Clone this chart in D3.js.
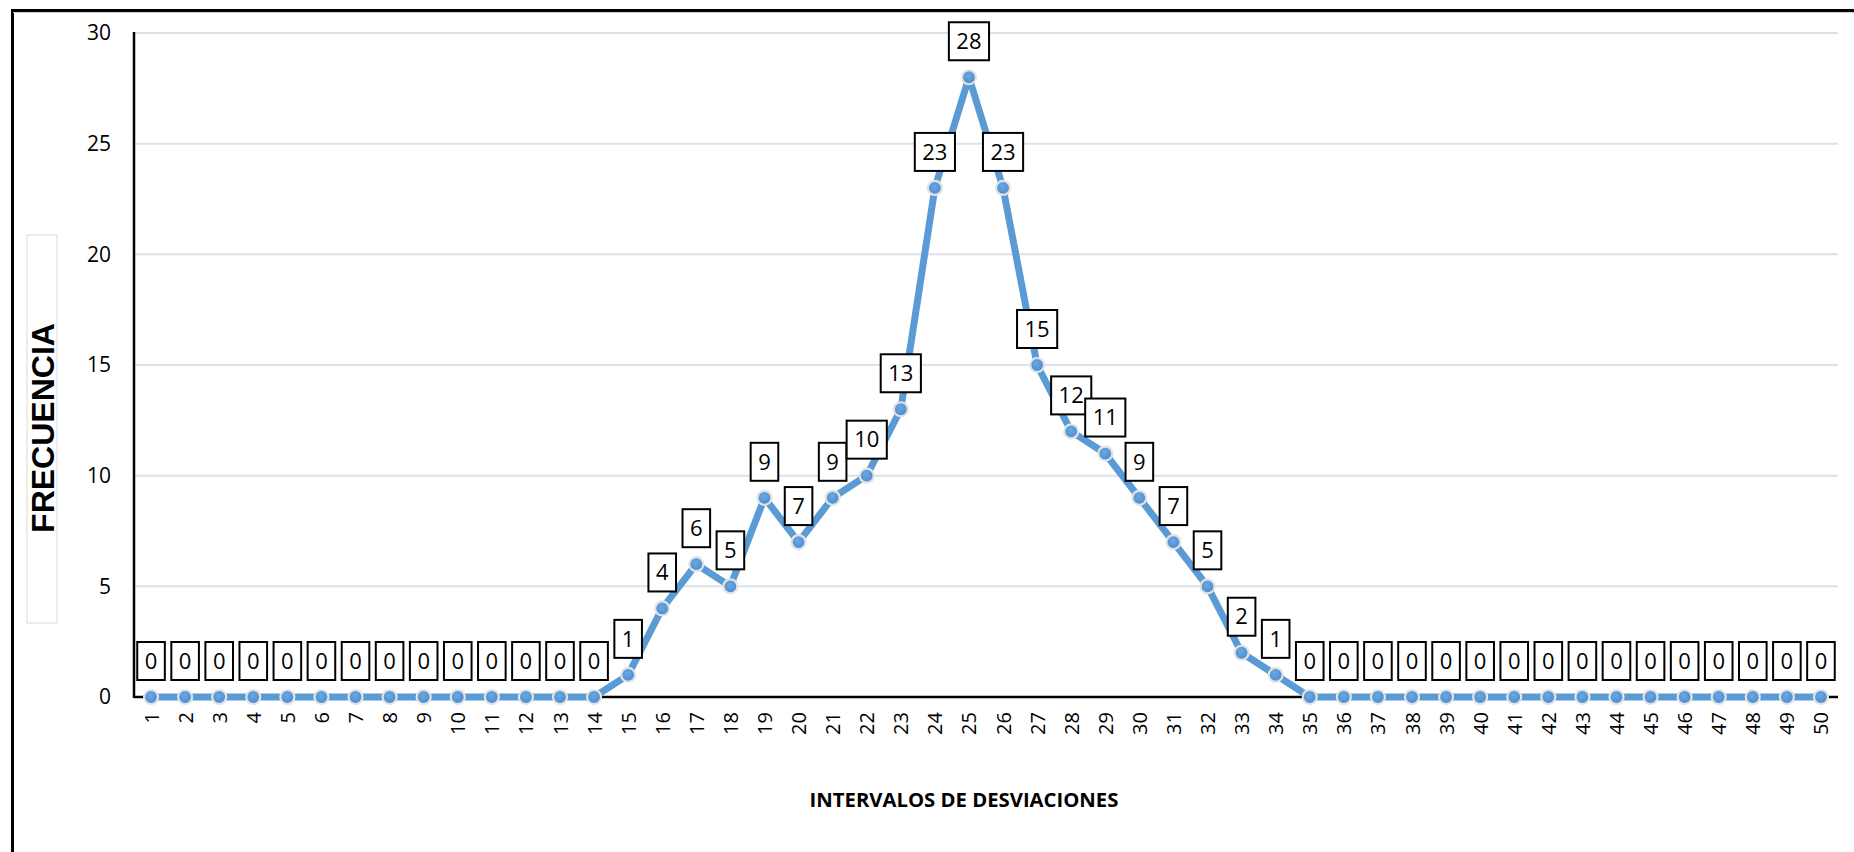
<!DOCTYPE html>
<html><head><meta charset="utf-8">
<script src="https://cdn.jsdelivr.net/npm/d3@7"></script>
<style>body{margin:0;background:#fff}svg{display:block}</style>
</head><body>
<svg id="c" width="1854" height="852"></svg>
<script>
const categories = d3.range(1, 51).map(String);
const frecuencia = [0,0,0,0,0,0,0,0,0,0,0,0,0,0,1,4,6,5,9,7,9,10,13,23,28,23,15,12,11,9,7,5,2,1,0,0,0,0,0,0,0,0,0,0,0,0,0,0,0,0];
const yTicks = [0,5,10,15,20,25,30];
const yTitle = "FRECUENCIA";
const xTitle = "INTERVALOS DE DESVIACIONES";

const svg = d3.select("#c");
const L = 134, R = 1838, T = 33, B = 697;
const step = (R - L) / categories.length;
const x = d3.scalePoint().domain(categories).range([L + step/2, R - step/2]);
const y = d3.scaleLinear().domain([0,30]).range([B, T]);

// outer border
svg.append("path").attr("d", `M12.5,1000 V10.5 H2000`).attr("fill","none").attr("stroke","#000").attr("stroke-width",3);
svg.append("line").attr("x1",13).attr("x2",1854).attr("y1",12.5).attr("y2",12.5).attr("stroke","#d0d0d0").attr("stroke-width",1);

// gridlines
svg.append("g").selectAll("line").data(yTicks.filter(d=>d>0)).join("line")
  .attr("x1", L).attr("x2", R).attr("y1", d=>y(d)).attr("y2", d=>y(d))
  .attr("stroke", "#dde1e7").attr("stroke-width", 2);

// y axis
const yAxis = svg.append("g").attr("transform", `translate(${L},0)`)
  .call(d3.axisLeft(y).tickValues(yTicks).tickSize(0).tickPadding(23));
yAxis.select(".domain").remove();
yAxis.selectAll("text").attr("font-family","'Open Sans', sans-serif").attr("font-size",21).attr("fill","#000");
svg.append("line").attr("x1",L).attr("x2",L).attr("y1",T-1).attr("y2",B+1).attr("stroke","#000").attr("stroke-width",2.5);

// x axis
svg.append("line").attr("x1",L).attr("x2",R).attr("y1",B).attr("y2",B).attr("stroke","#000").attr("stroke-width",2.5);
const xAxis = svg.append("g").attr("transform", `translate(0,${B})`)
  .call(d3.axisBottom(x).tickSize(0).tickPadding(0));
xAxis.select(".domain").remove();
xAxis.selectAll("text")
  .attr("font-family","'Open Sans', sans-serif").attr("font-size",20).attr("fill","#000")
  .attr("transform","rotate(-90)").attr("text-anchor","end")
  .attr("x",-15).attr("y",0).attr("dy","0.35em");

// line
const line = d3.line().x((d,i)=>x(categories[i])).y(d=>y(d));
svg.append("path").datum(frecuencia).attr("d", line)
  .attr("fill","none").attr("stroke","#5b9bd5").attr("stroke-width",7).attr("stroke-linejoin","round");

// markers
const grad = svg.append("defs").append("radialGradient").attr("id","mg").attr("cx","45%").attr("cy","40%").attr("r","60%");
grad.append("stop").attr("offset","0%").attr("stop-color","#6aa8e2");
grad.append("stop").attr("offset","100%").attr("stop-color","#4a8bd0");
svg.append("g").selectAll("circle").data(frecuencia).join("circle")
  .attr("cx",(d,i)=>x(categories[i])).attr("cy",d=>y(d)).attr("r",7)
  .attr("fill","url(#mg)").attr("stroke","#e3e3e3").attr("stroke-width",2.2);

// data labels
const lg = svg.append("g");
frecuencia.forEach((v,i)=>{
  const cx = x(categories[i]), cy = y(v);
  const g = lg.append("g");
  const t = g.append("text").text(v)
    .attr("font-family","'Open Sans', sans-serif").attr("font-size",22).attr("fill","#000")
    .attr("text-anchor","middle").attr("x",cx).attr("y",cy-36).attr("dy","0.35em");
  const w = t.node().getComputedTextLength() + 15;
  g.insert("rect","text").attr("x",cx-w/2).attr("y",cy-55).attr("width",w).attr("height",38)
    .attr("fill","#fff").attr("stroke","#000").attr("stroke-width",2);
});

// y title box
svg.append("rect").attr("x",27).attr("y",235).attr("width",30).attr("height",388)
  .attr("fill","none").attr("stroke","#d9d9d9").attr("stroke-width",1);
svg.append("text").text(yTitle)
  .attr("transform","translate(42.5,428) rotate(-90)")
  .attr("text-anchor","middle").attr("dy","0.35em")
  .attr("font-family","'Liberation Sans', Arial, sans-serif").attr("font-weight","bold").attr("font-size",32).attr("fill","#000");

// x title
svg.append("text").text(xTitle).attr("x",964).attr("y",807).attr("text-anchor","middle")
  .attr("font-family","'Open Sans', sans-serif").attr("font-weight","bold").attr("font-size",20.3).attr("fill","#000");
</script>
</body></html>
